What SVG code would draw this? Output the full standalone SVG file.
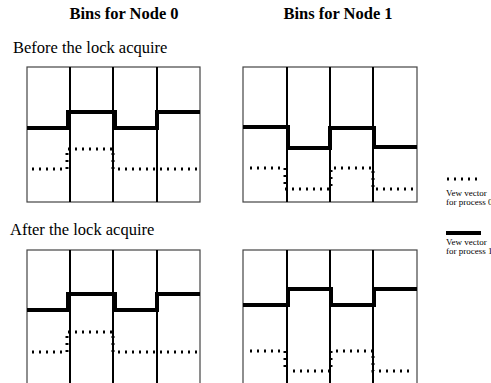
<svg xmlns="http://www.w3.org/2000/svg" width="491" height="383" viewBox="0 0 491 383">
<style>
text{font-family:"Liberation Serif","Times New Roman",serif;fill:#000}
.title{font-weight:bold;font-size:16.5px;text-anchor:middle}
.sub{font-size:16.5px}
.leg{font-size:9px}
.border{fill:none;stroke:#444;stroke-width:1.2}
.div{stroke:#000;stroke-width:2}
.thick{fill:none;stroke:#000;stroke-width:4;stroke-linejoin:miter}
.dot{fill:none;stroke:#000;stroke-width:3;stroke-dasharray:2 5}
</style>
<rect width="491" height="383" fill="#fff"/>
<text class="title" x="124" y="19">Bins for Node 0</text>
<text class="title" x="338" y="19">Bins for Node 1</text>
<text class="sub" x="13" y="53">Before the lock acquire</text>
<text class="sub" x="10" y="235">After the lock acquire</text>

<g id="node0-before">
<rect class="border" x="27" y="67" width="173" height="135"/>
<line class="div" x1="70" y1="67" x2="70" y2="202"/>
<line class="div" x1="113" y1="67" x2="113" y2="202"/>
<line class="div" x1="157" y1="67" x2="157" y2="202"/>
<polyline class="thick" points="27,128 68,128 68,112 115,112 115,128 157,128 157,112 200,112"/>
<polyline class="dot" points="32,169 67,169 67,149 113,149 113,169 198,169"/>
</g>

<g id="node1-before">
<rect class="border" x="243" y="67" width="174" height="135"/>
<line class="div" x1="287" y1="67" x2="287" y2="202"/>
<line class="div" x1="330" y1="67" x2="330" y2="202"/>
<line class="div" x1="373" y1="67" x2="373" y2="202"/>
<polyline class="thick" points="243,127 288,127 288,148 330,148 330,128 374,128 374,147 417,147"/>
<polyline class="dot" points="250,168 285,168 285,189 331,189 331,168 373,168 373,189 414,189"/>
</g>

<g id="node0-after">
<rect class="border" x="27" y="250" width="173" height="140"/>
<line class="div" x1="70" y1="250" x2="70" y2="385"/>
<line class="div" x1="113" y1="250" x2="113" y2="385"/>
<line class="div" x1="157" y1="250" x2="157" y2="385"/>
<polyline class="thick" points="27,310 68,310 68,294 115,294 115,310 157,310 157,294 200,294"/>
<polyline class="dot" points="32,352 67,352 67,332 113,332 113,352 198,352"/>
</g>

<g id="node1-after">
<rect class="border" x="243" y="250" width="174" height="140"/>
<line class="div" x1="287" y1="250" x2="287" y2="385"/>
<line class="div" x1="330" y1="250" x2="330" y2="385"/>
<line class="div" x1="373" y1="250" x2="373" y2="385"/>
<polyline class="thick" points="243,305 288,305 288,289 331,289 331,305 374,305 374,289 417,289"/>
<polyline class="dot" points="250,351 285,351 285,371 331,371 331,351 373,351 373,371 414,371"/>
</g>

<g id="legend">
<line class="dot" x1="447" y1="179" x2="482" y2="179"/>
<text class="leg" x="446" y="196">Vew vector</text>
<text class="leg" x="446" y="205">for process 0</text>
<line x1="446" y1="233" x2="481" y2="233" stroke="#000" stroke-width="4"/>
<text class="leg" x="446" y="245">Vew vector</text>
<text class="leg" x="446" y="254">for process 1</text>
</g>
</svg>
